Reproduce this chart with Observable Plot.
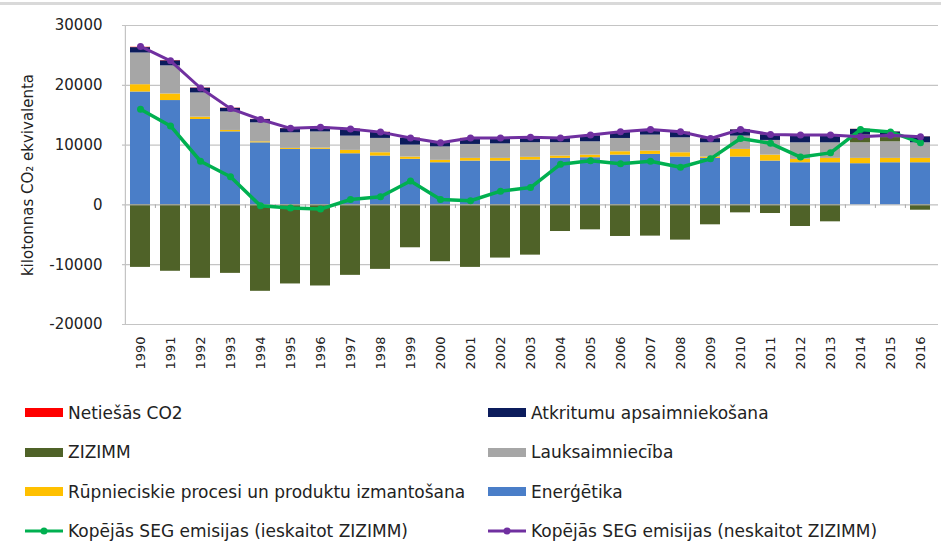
<!DOCTYPE html>
<html>
<head>
<meta charset="utf-8">
<script src="https://cdn.jsdelivr.net/npm/d3@7"></script>
<script src="https://cdn.jsdelivr.net/npm/@observablehq/plot@0.6"></script>
<style>
  html, body { margin: 0; padding: 0; background: #fff; }
  #wrap { position: relative; width: 941px; height: 556px; overflow: hidden; font-family: "DejaVu Sans", sans-serif; color: #222; }
  #topline { position: absolute; left: 0; right: 0; top: 2px; border-top: 3px solid #d9d9d9; }
  #chart { position: absolute; left: 0; top: 0; }
  #legend { position: absolute; left: 25px; top: 393px; display: grid; grid-template-columns: 463px 440px; grid-auto-rows: 39.5px; font-size: 17px; }
  .item { display: flex; align-items: center; white-space: nowrap; }
  .sw { width: 38px; height: 9px; margin-right: 5px; flex: none; }
  .lsw { width: 38px; height: 12px; margin-right: 5px; flex: none; }
</style>
</head>
<body>
<div id="wrap">
  <div id="chart"></div>
  <div id="topline"></div>
  <div id="legend"></div>
</div>
<script>
// ---- Data (kt CO2 eq.) ----
const years = ["1990","1991","1992","1993","1994","1995","1996","1997","1998","1999","2000","2001","2002","2003","2004","2005","2006","2007","2008","2009","2010","2011","2012","2013","2014","2015","2016"];
const energy      = [18880,17450,14280,12220,10380,9280,9300,8550,8170,7620,7050,7330,7330,7500,7780,7890,8330,8440,8000,7780,8000,7330,7050,7050,6890,7050,7050];
const industry    = [1220,1100,390,230,170,170,200,570,550,380,400,450,450,450,390,440,560,560,720,220,1280,1000,560,730,890,730,730];
const agriculture = [5300,4700,4050,3100,3170,2600,2700,2380,2400,2000,2250,2330,2420,2450,2230,2220,2220,2670,2500,2380,2220,2450,2770,2600,2600,2770,2600];
const lulucf      = [-10450,-11100,-12280,-11450,-14450,-13220,-13560,-11780,-10780,-7170,-9500,-10450,-8890,-8400,-4450,-4170,-5280,-5220,-5890,-3330,-1330,-1440,-3610,-2830,1300,700,-890];
const waste       = [900,850,800,600,550,700,750,1150,1000,1150,750,1000,950,850,800,1000,1000,900,950,700,1050,950,1200,1200,950,950,1000];
const indirect    = [60,50,40,40,30,30,30,30,30,30,20,20,20,20,20,20,20,20,20,20,20,20,20,20,20,20,20];
const totalIncl   = [16000,13200,7300,4700,-150,-500,-700,900,1350,4000,900,700,2300,2900,6800,7400,6900,7300,6300,7700,11100,10300,8000,8700,12600,12200,10400];
const totalExcl   = [26500,24100,19550,16100,14280,12800,13000,12700,12170,11200,10400,11200,11200,11300,11200,11670,12220,12610,12220,11110,12610,11780,11670,11670,11400,11650,11400];
const yTicks = [-20000,-10000,0,10000,20000,30000];

const sNames = ["Enerģētika","Rūpnieciskie procesi un produktu izmantošana","Lauksaimniecība","ZIZIMM","Atkritumu apsaimniekošana","Netiešās CO2"];
const sValues = [energy, industry, agriculture, lulucf, waste, indirect];
const sColors = ["#4A7EC8","#FFC000","#A6A6A6","#4F6228","#0C1C5C","#FF0000"];
const lineNameIncl = "Kopējās SEG emisijas (ieskaitot ZIZIMM)";
const lineNameExcl = "Kopējās SEG emisijas (neskaitot ZIZIMM)";
const greenC = "#00B050", purpleC = "#7030A0";

const rows = [];
sNames.forEach((s, i) => years.forEach((y, j) => rows.push({year: y, series: s, value: sValues[i][j]})));
const incl = years.map((y, j) => ({year: y, value: totalIncl[j]}));
const excl = years.map((y, j) => ({year: y, value: totalExcl[j]}));

const W = 941, mL = 122, mR = 3;
const step = (W - mL - mR) / years.length;

const chart = Plot.plot({
  width: W, height: 380,
  marginLeft: mL, marginRight: mR, marginTop: 25, marginBottom: 56,
  style: {fontFamily: "DejaVu Sans, sans-serif", color: "#222", background: "transparent"},
  x: {domain: years, paddingInner: 0.34, paddingOuter: 0.17, axis: null},
  y: {domain: [-20000, 30000], axis: null},
  color: {domain: sNames, range: sColors},
  marks: [
    Plot.ruleY([30000, 20000, 10000, -10000, -20000], {stroke: "#c4c4c4", strokeWidth: 1.2}),
    Plot.barY(rows, {x: "year", y: "value", fill: "series", order: sNames}),
    Plot.ruleY([0], {stroke: "#b0b0b0", strokeWidth: 1}),
    Plot.ruleX(years, {y1: 0, y2: -600, dx: -step / 2, stroke: "#a8a8a8"}),
    Plot.ruleX([years[0]], {y1: -20000, y2: 30000, dx: -step / 2, stroke: "#c4c4c4", strokeWidth: 1.2}),
    Plot.line(incl, {x: "year", y: "value", stroke: greenC, strokeWidth: 3.5}),
    Plot.dot(incl, {x: "year", y: "value", fill: greenC, r: 3.5}),
    Plot.line(excl, {x: "year", y: "value", stroke: purpleC, strokeWidth: 3}),
    Plot.dot(excl, {x: "year", y: "value", fill: purpleC, r: 3.5}),
    Plot.axisY({ticks: yTicks, tickFormat: d => String(d), tickSize: 0, tickPadding: 20, fontSize: 15, label: null}),
    Plot.axisX({tickRotate: -90, tickSize: 0, tickPadding: 12, fontSize: 13, label: null, frameAnchor: "bottom"}),
    Plot.text(["kilotonnas CO₂ ekvivalenta"], {frameAnchor: "left", textAnchor: "middle", dx: -94, rotate: -90, fontSize: 15, fill: "#222"})
  ]
});
document.getElementById("chart").appendChild(chart);

// ---- Legend (Excel order, two columns) ----
const legendItems = [
  {name: "Netiešās CO2", color: sColors[5], type: "box"},
  {name: "Atkritumu apsaimniekošana", color: sColors[4], type: "box"},
  {name: "ZIZIMM", color: sColors[3], type: "box"},
  {name: "Lauksaimniecība", color: sColors[2], type: "box"},
  {name: "Rūpnieciskie procesi un produktu izmantošana", color: sColors[1], type: "box"},
  {name: "Enerģētika", color: sColors[0], type: "box"},
  {name: lineNameIncl, color: greenC, type: "line"},
  {name: lineNameExcl, color: purpleC, type: "line"}
];
const leg = d3.select("#legend");
legendItems.forEach(it => {
  const d = leg.append("div").attr("class", "item");
  if (it.type === "box") {
    d.append("div").attr("class", "sw").style("background", it.color);
  } else {
    const s = d.append("svg").attr("class", "lsw").attr("width", 38).attr("height", 12);
    s.append("line").attr("x1", 0).attr("x2", 38).attr("y1", 6).attr("y2", 6).attr("stroke", it.color).attr("stroke-width", 3);
    s.append("circle").attr("cx", 19).attr("cy", 6).attr("r", 3.5).attr("fill", it.color);
  }
  d.append("span").text(it.name);
});
</script>
</body>
</html>
